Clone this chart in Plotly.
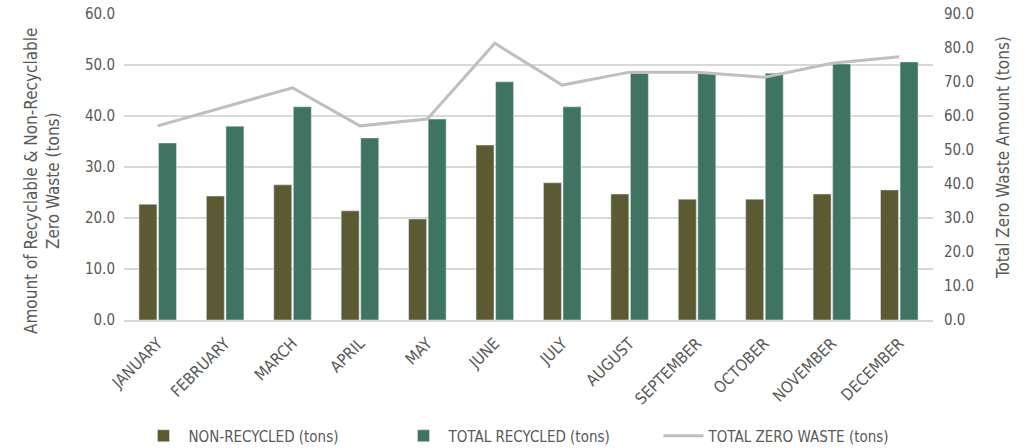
import plotly.graph_objects as go

months = ["JANUARY", "FEBRUARY", "MARCH", "APRIL", "MAY", "JUNE",
          "JULY", "AUGUST", "SEPTEMBER", "OCTOBER", "NOVEMBER", "DECEMBER"]
non_recycled = [22.7, 24.3, 26.5, 21.4, 19.8, 34.3, 26.9, 24.7, 23.7, 23.7, 24.7, 25.5]
total_recycled = [34.7, 38.0, 41.8, 35.7, 39.4, 46.7, 41.8, 48.4, 48.4, 48.4, 50.2, 50.6]
total_zero_waste = [57.1, 62.8, 68.3, 57.1, 59.1, 81.4, 69.1, 72.9, 72.9, 71.4, 75.5, 77.4]

left_ticks = [0, 10, 20, 30, 40, 50, 60]
right_ticks = [0, 10, 20, 30, 40, 50, 60, 70, 80, 90]

FONT = "DejaVu Sans Condensed, DejaVu Sans, sans-serif"
TXT = "#595959"

W, H = 1031, 448
L, R, T, B = 124, 98, 14, 128
PW, PH = W - L - R, H - T - B


def px_x(px):
    return (px - L) / PW


def px_y(py):
    return (H - B - py) / PH


fig = go.Figure()
fig.add_trace(go.Bar(x=months, y=non_recycled, name="NON-RECYCLED (tons)",
                     marker_color="#5C5A32", yaxis="y"))
fig.add_trace(go.Bar(x=months, y=total_recycled, name="TOTAL RECYCLED (tons)",
                     marker_color="#3F7463", yaxis="y"))
fig.add_trace(go.Scatter(x=months, y=total_zero_waste, name="TOTAL ZERO WASTE (tons)",
                         mode="lines", line=dict(color="#BFBFBF", width=3), yaxis="y2"))

fig.update_layout(
    width=W, height=H,
    margin=dict(l=L, r=R, t=T, b=B, autoexpand=False),
    paper_bgcolor="white", plot_bgcolor="white",
    font=dict(family=FONT, size=15, color=TXT),
    barmode="group", bargap=0.42, bargroupgap=0.08,
    showlegend=True,
    legend=dict(orientation="h", x=0.5, xanchor="center", y=px_y(436), yanchor="middle",
                font=dict(size=15, color=TXT), traceorder="normal",
                itemwidth=40, entrywidth=205),
    xaxis=dict(tickangle=-45, showgrid=False, showline=True, linecolor="#D9D9D9",
               linewidth=1.5, tickfont=dict(size=16, color=TXT), ticks="",
               automargin=False, ticklabelstandoff=6),
    yaxis=dict(range=[0, 60], tickvals=left_ticks,
               ticktext=[f"{v:.1f}" for v in left_ticks],
               showgrid=True, gridcolor="#D9D9D9", gridwidth=1.5,
               zeroline=False, ticks="", automargin=False, ticklabelstandoff=8,
               tickfont=dict(size=15, color=TXT)),
    yaxis2=dict(range=[0, 90], tickvals=right_ticks,
                ticktext=[f"{v:.1f}" for v in right_ticks],
                overlaying="y", side="right", showgrid=False, zeroline=False,
                automargin=False, ticklabelstandoff=10,
                tickfont=dict(size=15, color=TXT)),
    annotations=[
        dict(text="Amount of Recyclable & Non-Recyclable<br>Zero Waste (tons)",
             textangle=-90, xref="paper", yref="paper",
             x=px_x(42), y=px_y(181), xanchor="center", yanchor="middle",
             showarrow=False, font=dict(size=17, color=TXT)),
        dict(text="Total Zero Waste Amount (tons)",
             textangle=-90, xref="paper", yref="paper",
             x=px_x(1003), y=px_y(158), xanchor="center", yanchor="middle",
             showarrow=False, font=dict(size=17, color=TXT)),
    ],
)

fig.write_html("out.html")
